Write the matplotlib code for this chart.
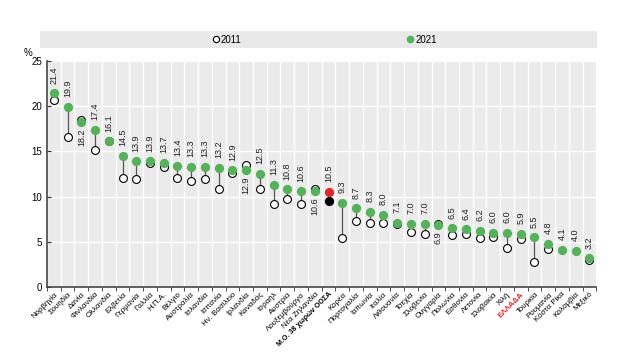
import matplotlib.pyplot as plt
from matplotlib.patches import Rectangle
from matplotlib.lines import Line2D
import numpy as np

plt.rcParams['font.family'] = ['Liberation Sans Narrow', 'Liberation Sans', 'DejaVu Sans']

countries = ['Νορβηγία', 'Σουηδία', 'Δανία', 'Φινλανδία', 'Ολλανδία', 'Ελβετία',
             'Γερμανία', 'Γαλλία', 'Η.Π.Α.', 'Βέλγιο', 'Αυστραλία', 'Ισλανδία',
             'Ισπανία', 'Ην. Βασίλειο', 'Ιρλανδία', 'Καναδάς', 'Ισραήλ', 'Αυστρία',
             'Λουξεμβούργο', 'Νέα Ζηλανδία', 'Μ.Ο. 38 χωρών ΟΟΣΑ', 'Κορέα',
             'Πορτογαλία', 'Ιαπωνία', 'Ιταλία', 'Λιθουανία', 'Τσεχία', 'Σλοβενία',
             'Ουγγαρία', 'Πολωνία', 'Εσθονία', 'Λετονία', 'Σλοβακία', 'Χιλή',
             'ΕΛΛΑΔΑ', 'Τουρκία', 'Ρουμανία', 'Κόστα Ρίκα', 'Κολομβία', 'Μεξικό']
v2021 = [21.4, 19.9, 18.2, 17.4, 16.1, 14.5, 13.9, 13.9, 13.7, 13.4, 13.3, 13.3,
         13.2, 12.9, 12.9, 12.5, 11.3, 10.8, 10.6, 10.6, 10.5, 9.3, 8.7, 8.3, 8.0,
         7.1, 7.0, 7.0, 6.9, 6.5, 6.4, 6.2, 6.0, 6.0, 5.9, 5.5, 4.8, 4.1, 4.0, 3.2]
v2011 = [20.7, 16.6, 18.5, 15.1, 16.1, 12.1, 12.0, 13.7, 13.3, 12.1, 11.7, 12.0,
         10.8, 12.6, 13.5, 10.9, 9.2, 9.8, 9.2, 10.9, 9.5, 5.4, 7.3, 7.1, 7.1,
         7.0, 6.1, 5.9, 7.0, 5.8, 5.9, 5.4, 5.6, 4.3, 5.3, 2.8, 4.2, None, None, 3.0]

green = '#55b25b'
red = '#e3262b'
avg = countries.index('Μ.Ο. 38 χωρών ΟΟΣΑ')
gr = countries.index('ΕΛΛΑΔΑ')

fig = plt.figure(figsize=(6.27, 3.53), dpi=100)
ax = fig.add_axes([0.075, 0.186, 0.876, 0.642])
ax.set_facecolor('#ebebeb')
x = np.arange(len(countries))

for i in x:
    a, b = v2011[i], v2021[i]
    if a is not None:
        ax.plot([i, i], [a, b], color='#555555', lw=0.9, zorder=2)
        if i == avg:
            ax.scatter(i, a, s=32, color='black', zorder=3)
        else:
            ax.scatter(i, a, s=32, facecolor='white', edgecolor='black', lw=0.8, zorder=3)
    ax.scatter(i, b, s=32, color=red if i == avg else green, zorder=4)
    below = a is not None and a > b
    ax.annotate(f'{b:.1f}', (i, b), xytext=(0, -4.5 if below else 7),
                textcoords='offset points', rotation=90, ha='center',
                va='top' if below else 'bottom', fontsize=6.5, color='#222222')

ax.set_xlim(-0.5, len(countries) - 0.5)
ax.set_ylim(0, 25)
ax.set_yticks([0, 5, 10, 15, 20, 25])
ax.set_xticks(x)
ax.set_xticks(np.arange(-0.5, len(countries), 1), minor=True)
ax.set_xticklabels(countries, rotation=45, ha='right', rotation_mode='anchor', fontsize=5.7)
ax.tick_params(axis='x', which='major', length=0, pad=2.5)
ax.tick_params(axis='x', which='minor', length=3, color='#333333')
ax.tick_params(axis='y', length=3, labelsize=7, color='#333333', direction='in')
ax.grid(which='minor', axis='x', color='white', lw=1)
ax.grid(which='major', axis='y', color='white', lw=1)
ax.set_axisbelow(True)
for s in ['top', 'right']:
    ax.spines[s].set_visible(False)
for s in ['left', 'bottom']:
    ax.spines[s].set_color('#444444')
    ax.spines[s].set_linewidth(1.2)
ax.text(-0.035, 1.01, '%', transform=ax.transAxes, fontsize=7, ha='center', va='bottom')

labels = ax.get_xticklabels()
labels[avg].set_fontweight('bold')
labels[avg].set_fontsize(5.1)
labels[avg].set_color('black')
labels[gr].set_fontweight('bold')
labels[gr].set_color(red)

fig.patches.append(Rectangle((0.064, 0.864), 0.888, 0.048, transform=fig.transFigure,
                             facecolor='#e9e9e9', edgecolor='none'))
h = [Line2D([], [], ls='none', marker='o', markersize=4.5, markerfacecolor='white',
            markeredgecolor='black', markeredgewidth=0.8),
     Line2D([], [], ls='none', marker='o', markersize=4.5, color=green)]
fig.legend(h, ['2011', '2021'], loc='center', bbox_to_anchor=(0.517, 0.888), ncol=2,
           frameon=False, fontsize=7, handletextpad=0.1, columnspacing=17, handlelength=0.8)

fig.savefig('out.png', dpi=100)
